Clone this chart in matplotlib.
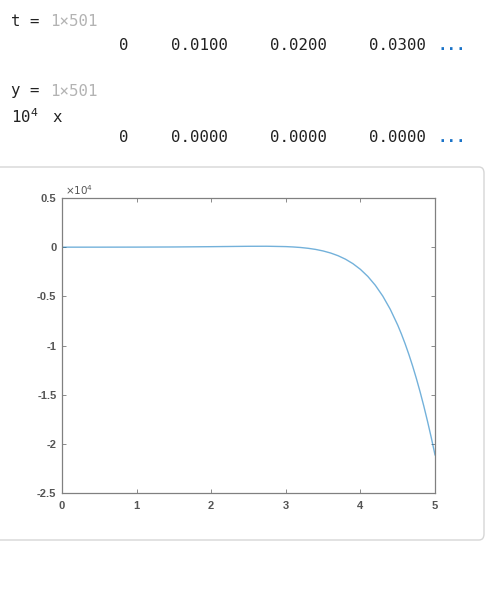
import matplotlib
matplotlib.use("Agg")
import matplotlib.pyplot as plt
from matplotlib.patches import FancyBboxPatch

# ---- data ----
t_vals = [0, 0.5, 1.0, 1.5, 2.0, 2.5, 2.75, 3.0, 3.1, 3.2, 3.3, 3.4, 3.5, 3.6, 3.7, 3.8, 3.9,
          4.0, 4.1, 4.2, 4.3, 4.4, 4.5, 4.55, 4.6, 4.65, 4.7, 4.75, 4.8, 4.85, 4.9, 4.95, 5.0]
y_vals = [0, 1.3, 6.2, 20, 50, 89, 93, 57, 20, -35, -116, -229, -385, -593, -867, -1223, -1679,
          -2256, -2979, -3876, -4976, -6313, -7921, -8837, -9835, -10917, -12087, -13350,
          -14708, -16161, -17718, -19368, -21121]
x_ticks = [0, 1, 2, 3, 4, 5]
y_ticks = [-2.5, -2, -1.5, -1, -0.5, 0, 0.5]
y_tick_labels = ["-2.5", "-2", "-1.5", "-1", "-0.5", "0", "0.5"]
t_preview = ["0", "0.0100", "0.0200", "0.0300"]
y_preview = ["0", "0.0000", "0.0000", "0.0000"]

W, H = 498, 614
fig = plt.figure(figsize=(W / 100, H / 100), dpi=100)

def fx(px):
    return px / W

def fy(py):
    return 1 - py / H

mono = "DejaVu Sans Mono"
fs_mono = 11.3
gray_txt = "#b3b3b3"
blue_dots = "#1a73c8"

# ---- command window text ----
fig.text(fx(11), fy(21), "t = ", family=mono, fontsize=fs_mono, va="center", ha="left", color="#222222")
fig.text(fx(50), fy(21), "1×501", family=mono, fontsize=fs_mono, va="center", ha="left", color=gray_txt)
fig.text(fx(11), fy(91), "y = ", family=mono, fontsize=fs_mono, va="center", ha="left", color="#222222")
fig.text(fx(50), fy(91), "1×501", family=mono, fontsize=fs_mono, va="center", ha="left", color=gray_txt)
fig.text(fx(11), fy(117), r"10$^{4}$", family=mono, fontsize=fs_mono, va="center", ha="left", color="#222222")
fig.text(fx(52), fy(118), "x", family=mono, fontsize=fs_mono, va="center", ha="left", color="#222222")

right_edges = [128, 228, 327, 426]
for vals, yc in ((t_preview, 46), (y_preview, 137)):
    for s, xr in zip(vals, right_edges):
        fig.text(fx(xr), fy(yc), s, family=mono, fontsize=fs_mono, va="center", ha="right", color="#222222")
    fig.text(fx(437), fy(yc), "...", family=mono, fontsize=fs_mono, va="center", ha="left",
             color=blue_dots, fontweight="bold")

# ---- output panel box ----
box = FancyBboxPatch((fx(-6), fy(540)), fx(490), (540 - 167) / H,
                     boxstyle="round,pad=0,rounding_size=0.01",
                     transform=fig.transFigure, facecolor="white",
                     edgecolor="#d6d6d6", linewidth=1.0, zorder=-5)
fig.patches.append(box)

# ---- axes ----
ax = fig.add_axes([fx(62), fy(493), fx(435 - 62), (493 - 198) / H])
ax.set_zorder(5)
ax.plot(t_vals, [v / 1e4 for v in y_vals], color="#0072BD", alpha=0.55, lw=1.0)
ax.set_xlim(0, 5)
ax.set_ylim(-2.5, 0.5)
ax.set_xticks(x_ticks)
ax.set_yticks(y_ticks)
ax.set_yticklabels(y_tick_labels)
ax.tick_params(direction="in", length=3, width=0.6, color="#777777",
               labelsize=8, labelcolor="#555555", top=True, right=True)
ax.tick_params(axis="y", pad=4)
ax.tick_params(axis="x", pad=6)
for lab in ax.get_xticklabels() + ax.get_yticklabels():
    lab.set_fontfamily("Liberation Sans")
    lab.set_fontweight("bold")
for sp in ax.spines.values():
    sp.set_color("#808080")
    sp.set_linewidth(0.9)
ax.text(0.008, 1.003, r"$\times10^{4}$", transform=ax.transAxes, fontsize=7.5,
        color="#555555", ha="left", va="bottom", family="Liberation Sans")

fig.savefig("out.png", dpi=100, facecolor="white")
